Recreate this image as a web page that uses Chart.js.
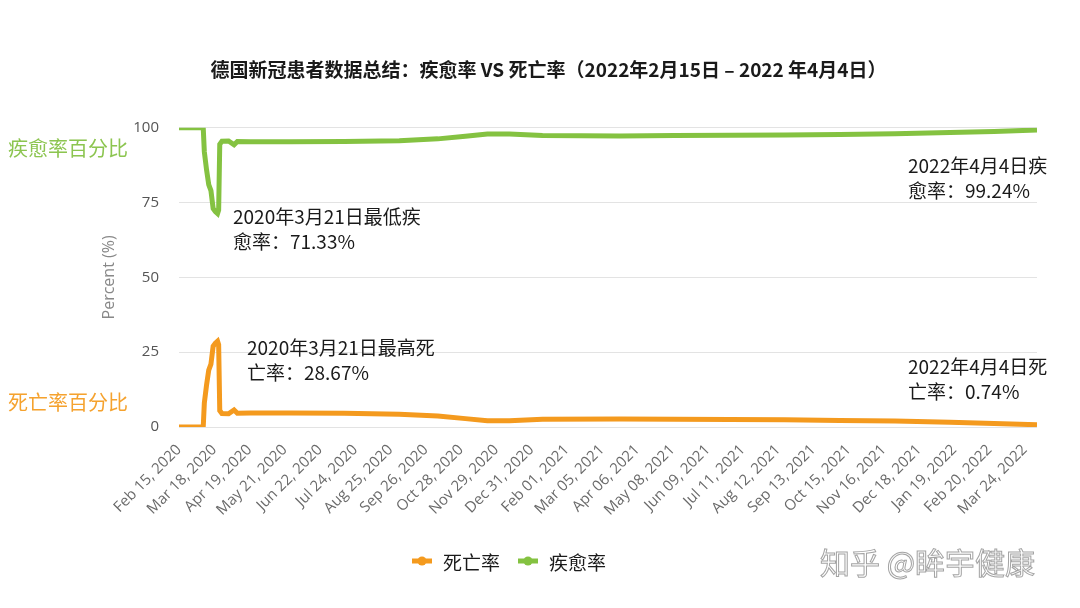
<!DOCTYPE html>
<html lang="zh">
<head>
<meta charset="UTF-8">
<title>德国新冠患者数据总结</title>
<script src="https://cdn.jsdelivr.net/npm/chart.js"></script>
<style>
  body { margin: 0; background: #fff; }
</style>
</head>
<body>
<canvas id="rateChart" width="1080" height="608"></canvas>
<script>
// values (percent of closed cases)
const dates = ['2020-02-15','2020-03-08','2020-03-09','2020-03-11','2020-03-13','2020-03-15','2020-03-17',
  '2020-03-19','2020-03-21','2020-03-22','2020-03-23','2020-03-25','2020-03-31','2020-04-05','2020-04-08',
  '2020-04-20','2020-05-25','2020-07-14','2020-09-02','2020-10-07','2020-11-01','2020-11-21','2020-12-11',
  '2021-01-10','2021-03-21','2021-05-10','2021-06-29','2021-08-18','2021-10-07','2021-11-26','2022-01-15',
  '2022-02-24','2022-04-04'];
const recoveryRate = [100,100,92,86,81,79,73,72,71.33,72.5,94.5,95.5,95.6,94.3,95.4,
  95.3,95.3,95.4,95.7,96.3,97.2,97.9,97.9,97.4,97.3,97.4,97.5,97.6,97.8,98.0,98.4,98.8,99.24];
const deathRate = [0,0,8,14,19,21,27,28,28.67,27.5,5.5,4.5,4.4,5.7,4.6,
  4.7,4.7,4.6,4.3,3.7,2.8,2.1,2.1,2.6,2.7,2.6,2.5,2.4,2.2,2.0,1.6,1.2,0.74];
const tickLabels = ['Feb 15, 2020','Mar 18, 2020','Apr 19, 2020','May 21, 2020','Jun 22, 2020','Jul 24, 2020',
  'Aug 25, 2020','Sep 26, 2020','Oct 28, 2020','Nov 29, 2020','Dec 31, 2020','Feb 01, 2021','Mar 05, 2021',
  'Apr 06, 2021','May 08, 2021','Jun 09, 2021','Jul 11, 2021','Aug 12, 2021','Sep 13, 2021','Oct 15, 2021',
  'Nov 16, 2021','Dec 18, 2021','Jan 19, 2022','Feb 20, 2022','Mar 24, 2022'];
const yTicks = [0, 25, 50, 75, 100];

const START = Date.parse(dates[0]);
const LAST_DAY = (Date.parse(dates[dates.length - 1]) - START) / 86400000;
const dayOf = d => Math.round((Date.parse(d) - START) / 86400000);

const GREEN = '#84c241';
const ORANGE = '#f49a1e';
const CJK = "'Noto Sans CJK SC', 'Noto Sans', sans-serif";

// extra text: notes, side labels, legend, watermark
const notesPlugin = {
  id: 'notes',
  afterDraw(chart) {
    const ctx = chart.ctx;
    ctx.save();
    ctx.textBaseline = 'middle';
    ctx.textAlign = 'left';

    ctx.font = '20px ' + CJK;
    ctx.fillStyle = '#8cc550';
    ctx.fillText('疾愈率百分比', 8, 148);
    ctx.fillStyle = '#f5a22e';
    ctx.fillText('死亡率百分比', 8, 402);

    ctx.font = '19px ' + CJK;
    ctx.fillStyle = '#1a1a1a';
    const notes = [
      ['2020年3月21日最低疾', '愈率：71.33%', 233, 217],
      ['2020年3月21日最高死', '亡率：28.67%', 247, 348],
      ['2022年4月4日疾', '愈率：99.24%', 908, 166],
      ['2022年4月4日死', '亡率：0.74%', 908, 367]
    ];
    notes.forEach(n => {
      ctx.fillText(n[0], n[2], n[3]);
      ctx.fillText(n[1], n[2], n[3] + 25);
    });

    // legend
    const items = [[ORANGE, '死亡率', 412], [GREEN, '疾愈率', 518]];
    items.forEach(([c, t, x]) => {
      ctx.strokeStyle = c;
      ctx.fillStyle = c;
      ctx.lineWidth = 5;
      ctx.beginPath();
      ctx.moveTo(x, 561);
      ctx.lineTo(x + 20, 561);
      ctx.stroke();
      ctx.beginPath();
      ctx.arc(x + 10, 561, 4.5, 0, Math.PI * 2);
      ctx.fill();
      ctx.fillStyle = '#1a1a1a';
      ctx.font = '19px ' + CJK;
      ctx.fillText(t, x + 31, 563);
    });

    // watermark
    ctx.font = '30px ' + CJK;
    ctx.fillStyle = 'rgba(255,255,255,0.85)';
    ctx.strokeStyle = 'rgba(140,140,140,0.8)';
    ctx.lineWidth = 1;
    ctx.fillText('知乎 @眸宇健康', 820, 563);
    ctx.strokeText('知乎 @眸宇健康', 820, 563);
    ctx.restore();
  }
};

const ctx = document.getElementById('rateChart').getContext('2d');
new Chart(ctx, {
  type: 'line',
  data: {
    datasets: [
      {
        label: '死亡率',
        data: dates.map((d, i) => ({ x: dayOf(d), y: deathRate[i] })),
        borderColor: ORANGE,
        backgroundColor: ORANGE,
        borderWidth: 5,
        pointRadius: 0,
        tension: 0
      },
      {
        label: '疾愈率',
        data: dates.map((d, i) => ({ x: dayOf(d), y: recoveryRate[i] })),
        borderColor: GREEN,
        backgroundColor: GREEN,
        borderWidth: 5,
        pointRadius: 0,
        tension: 0
      }
    ]
  },
  options: {
    responsive: false,
    animation: false,
    layout: { padding: { left: 60, right: 43, top: 0, bottom: 81 } },
    plugins: {
      legend: { display: false },
      tooltip: { enabled: false },
      title: {
        display: true,
        text: '德国新冠患者数据总结：疾愈率 VS 死亡率（2022年2月15日 – 2022 年4月4日）',
        color: '#1a1a1a',
        font: { family: CJK, size: 19, weight: 'bold', lineHeight: 1.2 },
        padding: { top: 58, bottom: 47 }
      }
    },
    scales: {
      x: {
        type: 'linear',
        min: 0,
        max: LAST_DAY,
        grid: { display: false },
        border: { display: false },
        afterFit: s => { s.height = 100; },
        ticks: {
          stepSize: 32,
          includeBounds: false,
          autoSkip: false,
          minRotation: 45,
          maxRotation: 45,
          padding: 6,
          color: '#6a6a6a',
          font: { family: "'Open Sans', sans-serif", size: 15 },
          callback: v => tickLabels[Math.round(v / 32)] || ''
        }
      },
      y: {
        min: 0,
        max: 100,
        afterFit: s => { s.width = 119; },
        afterBuildTicks: s => { s.ticks = yTicks.map(v => ({ value: v })); },
        grid: { color: '#e3e3e3', drawTicks: false },
        border: { display: false },
        ticks: {
          padding: 20,
          color: '#555',
          font: { family: "'Open Sans', sans-serif", size: 15 }
        },
        title: {
          display: true,
          text: 'Percent (%)',
          color: '#888',
          font: { family: "'Open Sans', sans-serif", size: 16 },
          padding: { top: 40, bottom: 0 }
        }
      }
    }
  },
  plugins: [notesPlugin]
});
</script>
</body>
</html>
